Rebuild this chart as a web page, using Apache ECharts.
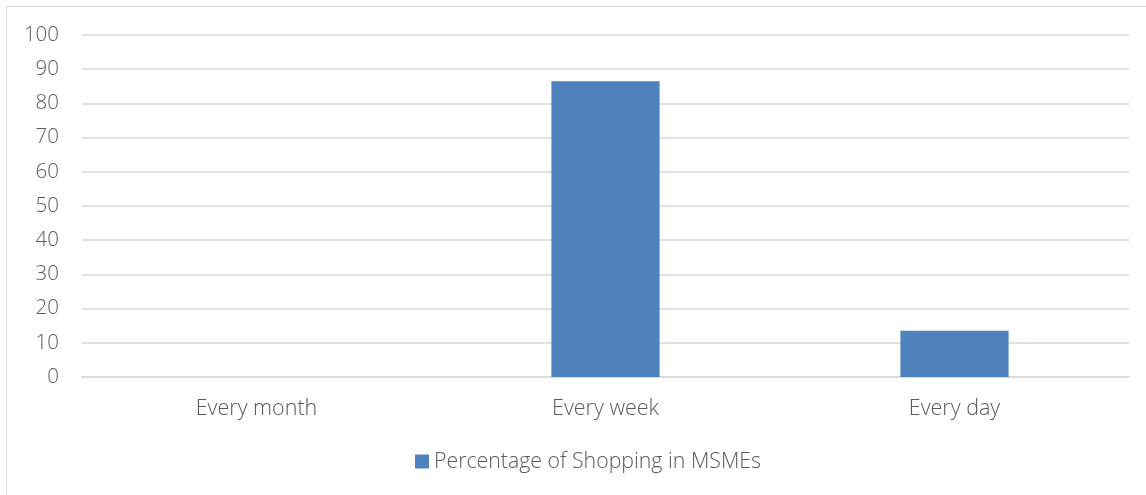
<!DOCTYPE html>
<html>
<head>
<meta charset="utf-8">
<script src="https://cdn.jsdelivr.net/npm/echarts@6/dist/echarts.min.js"></script>
<style>
  html, body { margin: 0; padding: 0; background: #fff; }
  #chart { width: 1146px; height: 495px; }
</style>
</head>
<body>
<div id="chart"></div>
<script>
// Shopping frequency in MSMEs (percent of respondents)
const categories = ['Every month', 'Every week', 'Every day'];
const shoppingPct = [0, 86.5, 13.5];
const seriesName = 'Percentage of Shopping in MSMEs';

const FONT = '"Open Sans", "Segoe UI", sans-serif';
const TEXT = '#595959';

const chart = echarts.init(document.getElementById('chart'), null, { renderer: 'canvas' });
chart.setOption({
  animation: false,
  backgroundColor: '#ffffff',
  graphic: [{
    type: 'rect',
    shape: { x: 6.5, y: 6.5, width: 1150, height: 500 },
    style: { fill: 'none', stroke: '#d9d9d9', lineWidth: 1 },
    silent: true
  }],
  grid: { left: 82, right: 17, top: 35, bottom: 118, containLabel: false },
  legend: {
    data: [seriesName],
    left: 410,
    top: 446,
    itemWidth: 14,
    itemHeight: 14,
    itemGap: 4,
    icon: 'rect',
    textStyle: { color: TEXT, fontFamily: FONT, fontSize: 21.3, fontWeight: 300 }
  },
  xAxis: {
    type: 'category',
    data: categories,
    axisLine: { show: true, lineStyle: { color: '#d9d9d9', width: 1.5 } },
    axisTick: { show: false },
    axisLabel: { color: TEXT, fontFamily: FONT, fontSize: 21.5, fontWeight: 300, margin: 21 }
  },
  yAxis: {
    type: 'value',
    min: 0,
    max: 100,
    interval: 10,
    axisLine: { show: false },
    axisTick: { show: false },
    axisLabel: { color: TEXT, fontFamily: FONT, fontSize: 20.5, fontWeight: 300, margin: 23 },
    splitLine: { lineStyle: { color: '#d9d9d9', width: 1.5 } }
  },
  series: [{
    name: seriesName,
    type: 'bar',
    data: shoppingPct,
    barWidth: '31%',
    itemStyle: { color: '#4f81bd' }
  }]
});
</script>
</body>
</html>
